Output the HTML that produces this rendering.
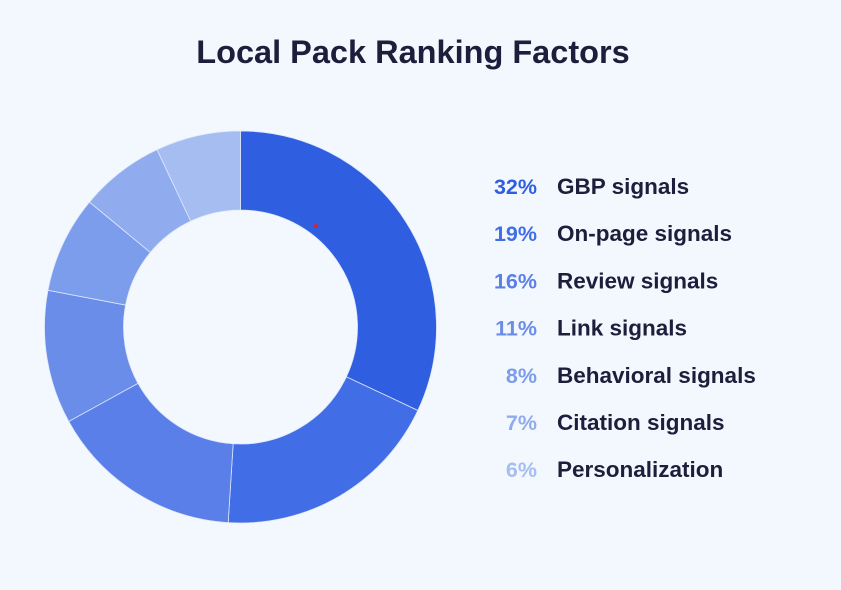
<!DOCTYPE html>
<html><head><meta charset="utf-8"><style>
body{margin:0;width:841px;height:585px;background:#f3f8fe;font-family:"Liberation Sans",sans-serif;overflow:hidden}
</style></head><body>
<svg id="chart" width="841" height="585">
<text x="413" y="63" text-anchor="middle" font-size="32.5" font-weight="bold" fill="#1b1f3b">Local Pack Ranking Factors</text>
<g id="slices"></g><g id="legend"></g>
</svg>
<script>
const categories=["GBP signals","On-page signals","Review signals","Link signals","Behavioral signals","Citation signals","Personalization"];
const values=[32,19,16,11,8,7,6];
const colors=["#2f5fe0","#416de6","#5a7fe8","#6a8dea","#7c9cec","#90acef","#a6bdf2"];
const NS="http://www.w3.org/2000/svg";
const cx=240.5,cy=327,R=196,r=117;
const total=100;
const sg=document.getElementById('slices'),lg=document.getElementById('legend');
function pt(a,rad){return [cx+rad*Math.sin(a),cy-rad*Math.cos(a)];}
let acc=0;
values.forEach((v,i)=>{
 const a0=acc/total*2*Math.PI;acc+=v;
 const a1=(i===values.length-1)?2*Math.PI-1e-4:acc/total*2*Math.PI;
 const large=(a1-a0)>Math.PI?1:0;
 const p0=pt(a0,R),p1=pt(a1,R),q1=pt(a1,r),q0=pt(a0,r);
 const p=document.createElementNS(NS,'path');
 p.setAttribute('d',`M${p0}A${R},${R} 0 ${large} 1 ${p1}L${q1}A${r},${r} 0 ${large} 0 ${q0}Z`);
 p.setAttribute('fill',colors[i]);p.setAttribute('stroke','#dfe8fb');p.setAttribute('stroke-width','0.8');
 
 
 sg.appendChild(p);
 const y=194+i*47.2;
 const t1=document.createElementNS(NS,'text');
 t1.setAttribute('x',537);t1.setAttribute('y',y);t1.setAttribute('text-anchor','end');
 t1.setAttribute('font-size','21.5');t1.setAttribute('font-weight','bold');t1.setAttribute('fill',colors[i]);
 t1.textContent=v+'%';
 
 
 lg.appendChild(t1);
 const t2=document.createElementNS(NS,'text');
 t2.setAttribute('x',557);t2.setAttribute('y',y);t2.setAttribute('font-size','22.5');t2.setAttribute('font-weight','bold');t2.setAttribute('fill','#1b1f3b');
 t2.textContent=categories[i];
 
 
 lg.appendChild(t2);
});
const d=document.createElementNS(NS,'circle');
d.setAttribute('cx',316);d.setAttribute('cy',226);d.setAttribute('r',2);d.setAttribute('fill','#e0202a');


sg.appendChild(d);
</script>
</body></html>
